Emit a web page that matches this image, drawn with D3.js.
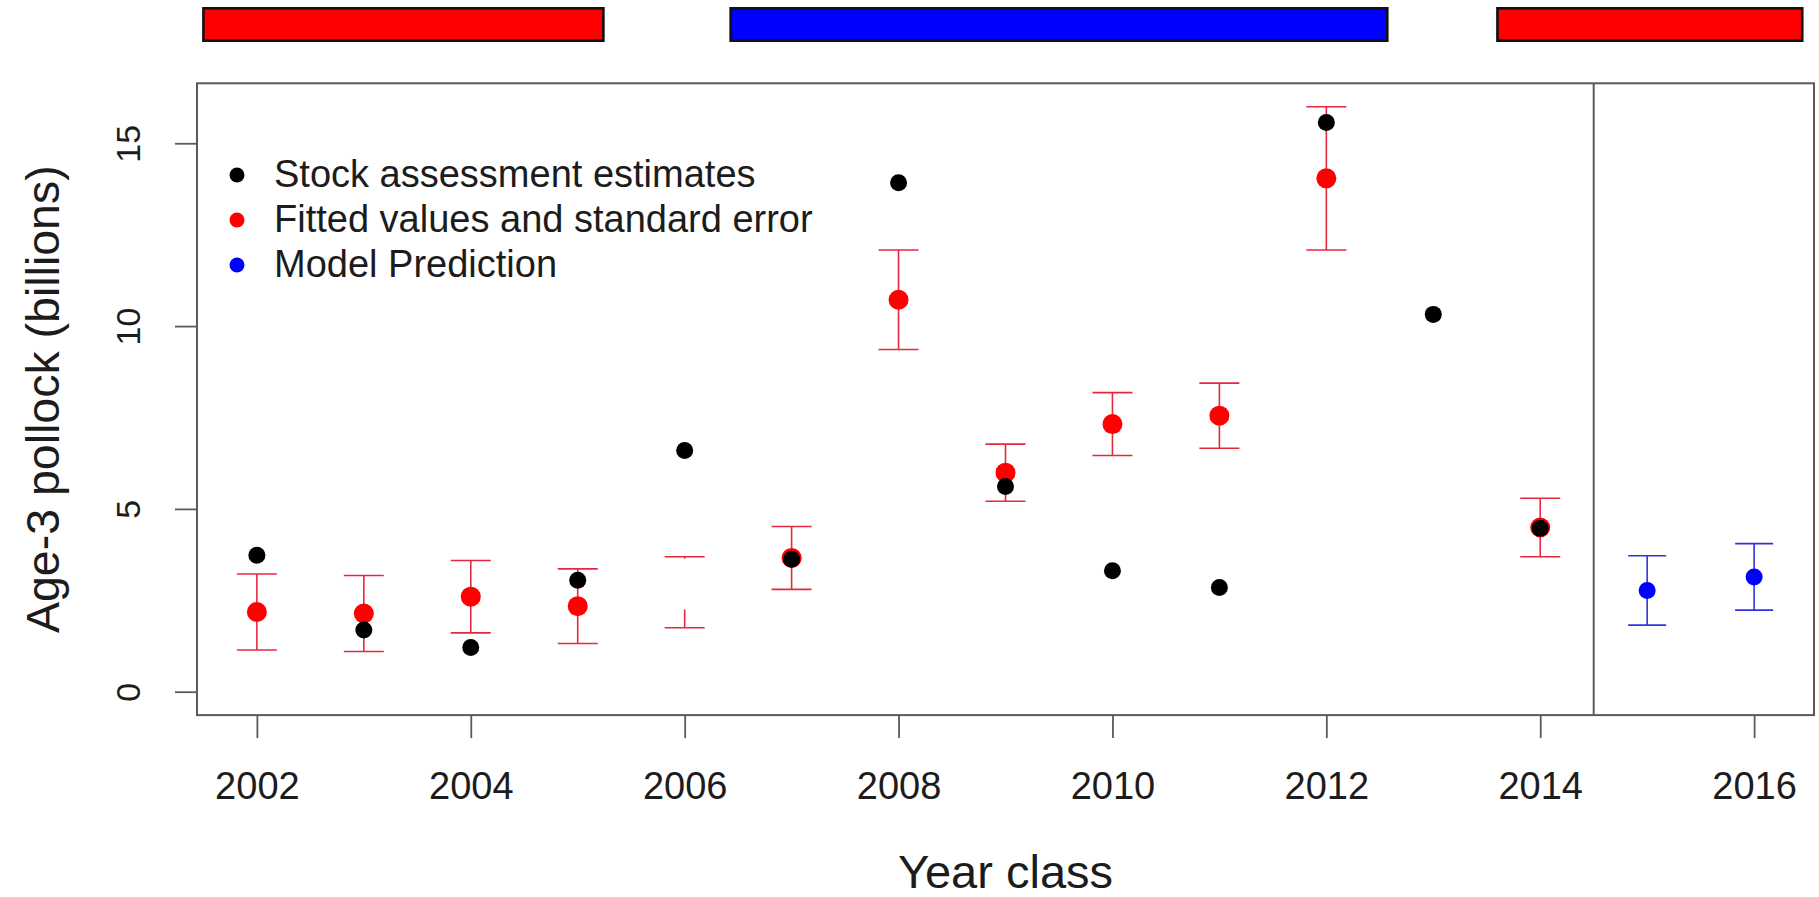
<!DOCTYPE html>
<html>
<head>
<meta charset="utf-8">
<script src="https://cdn.jsdelivr.net/npm/d3@7"></script>
<style>
  html, body { margin: 0; padding: 0; background: #ffffff; }
  svg { display: block; font-family: "Liberation Sans", Arial, Helvetica, sans-serif; }
</style>
</head>
<body>
<script>
// Year classes with stock assessment estimates (billions of age-3 pollock)
const assessmentYears = [2002, 2003, 2004, 2005, 2006, 2007, 2008, 2009, 2010, 2011, 2012, 2013, 2014];
const assessmentValues = [3.73, 1.69, 1.21, 3.05, 6.60, 3.62, 13.92, 5.61, 3.31, 2.85, 15.57, 10.32, 4.47];

// Fitted values with their standard errors
const fittedYears = [2002, 2003, 2004, 2005, 2006, 2007, 2008, 2009, 2010, 2011, 2012, 2014];
const fittedValues = [2.18, 2.14, 2.60, 2.34, 2.72, 3.66, 10.72, 5.99, 7.32, 7.55, 14.04, 4.49];
const fittedSE = [1.04, 1.04, 0.99, 1.02, 0.97, 0.86, 1.36, 0.78, 0.86, 0.89, 1.96, 0.80];

// Model predictions for the most recent year classes
const predictionYears = [2015, 2016];
const predictionValues = [2.77, 3.14];
const predictionSE = [0.95, 0.91];

// Blank patch drawn over part of the 2006 fitted bar (value range)
const blankPatch = { year: 2006, from: 2.25, to: 3.64 };

// Warm / cold period bars along the top (year ranges)
const periodStarts = [2001.5, 2006.43, 2013.6];
const periodEnds = [2005.24, 2012.57, 2016.45];
const periodColors = ["#ff0000", "#0000ff", "#ff0000"];

// Axis ticks
const xTickValues = [2002, 2004, 2006, 2008, 2010, 2012, 2014, 2016];
const yTickValues = [0, 5, 10, 15];

// Hindcast / forecast boundary
const splitYear = 2014.5;

// Legend entries
const legendLabels = ["Stock assessment estimates", "Fitted values and standard error", "Model Prediction"];
const legendColors = ["#000000", "#ff0000", "#0000ff"];

const W = 1819, H = 897;
const plot = { left: 197, right: 1814, top: 83.3, bottom: 715.1 };

const svg = d3.select("body").append("svg")
  .attr("width", W).attr("height", H);

svg.append("rect").attr("width", W).attr("height", H).attr("fill", "#ffffff");

// R-style 4% padding around xlim = c(2002, 2016), ylim = c(0, 16)
const x = d3.scaleLinear().domain([2002 - 0.56, 2016 + 0.56]).range([plot.left, plot.right]);
const y = d3.scaleLinear().domain([0 - 0.64, 16 + 0.64]).range([plot.bottom, plot.top]);

const axisColor = "#5a5a5a";
const textColor = "#1c1c1c";

// Period bars
const periods = periodStarts.map((s, i) => ({ start: s, end: periodEnds[i], color: periodColors[i] }));
svg.append("g").selectAll("rect").data(periods).join("rect")
  .attr("x", d => x(d.start))
  .attr("y", 8.3)
  .attr("width", d => x(d.end) - x(d.start))
  .attr("height", 32.4)
  .attr("fill", d => d.color)
  .attr("stroke", "#111111")
  .attr("stroke-width", 2.6);

// X axis
const xAxis = svg.append("g")
  .attr("transform", `translate(0,${plot.bottom})`)
  .call(d3.axisBottom(x).tickValues(xTickValues).tickFormat(d3.format("d")).tickSize(23).tickPadding(34));
xAxis.select(".domain").remove();
xAxis.selectAll(".tick line").attr("stroke", axisColor).attr("stroke-width", 1.8);
xAxis.selectAll(".tick text")
  .attr("fill", textColor)
  .style("font-size", "38px")
  .style("font-family", "\"Liberation Sans\", Arial, sans-serif");

// Y axis with labels parallel to the axis
const yAxis = svg.append("g")
  .attr("transform", `translate(${plot.left},0)`)
  .call(d3.axisLeft(y).tickValues(yTickValues).tickFormat(d3.format("d")).tickSize(22));
yAxis.select(".domain").remove();
yAxis.selectAll(".tick line").attr("stroke", axisColor).attr("stroke-width", 1.8);
yAxis.selectAll(".tick text")
  .attr("x", null)
  .attr("dy", null)
  .attr("text-anchor", "middle")
  .attr("transform", `translate(${140 - plot.left},0) rotate(-90)`)
  .attr("fill", textColor)
  .style("font-size", "34px")
  .style("font-family", "\"Liberation Sans\", Arial, sans-serif");

// Axis titles
svg.append("text")
  .attr("transform", `translate(59,${(plot.top + plot.bottom) / 2}) rotate(-90)`)
  .attr("text-anchor", "middle")
  .attr("fill", textColor)
  .style("font-size", "46.5px")
  .text("Age-3 pollock (billions)");

svg.append("text")
  .attr("x", (plot.left + plot.right) / 2)
  .attr("y", 888)
  .attr("text-anchor", "middle")
  .attr("fill", textColor)
  .style("font-size", "47px")
  .text("Year class");

// Error bars helper
function errorBars(g, years, values, se, color, capHalf, width) {
  const rows = years.map((yr, i) => ({ yr, lo: values[i] - se[i], hi: values[i] + se[i] }));
  const gg = g.append("g").attr("stroke", color).attr("stroke-width", width).attr("fill", "none");
  gg.selectAll("line.whisker").data(rows).join("line").attr("class", "whisker")
    .attr("x1", d => x(d.yr)).attr("x2", d => x(d.yr))
    .attr("y1", d => y(d.hi)).attr("y2", d => y(d.lo));
  gg.selectAll("line.capHi").data(rows).join("line").attr("class", "capHi")
    .attr("x1", d => x(d.yr) - capHalf).attr("x2", d => x(d.yr) + capHalf)
    .attr("y1", d => y(d.hi)).attr("y2", d => y(d.hi));
  gg.selectAll("line.capLo").data(rows).join("line").attr("class", "capLo")
    .attr("x1", d => x(d.yr) - capHalf).attr("x2", d => x(d.yr) + capHalf)
    .attr("y1", d => y(d.lo)).attr("y2", d => y(d.lo));
}

const marks = svg.append("g");

errorBars(marks, fittedYears, fittedValues, fittedSE, "#e6283f", 20, 1.6);
errorBars(marks, predictionYears, predictionValues, predictionSE, "#3232dc", 19, 1.6);

// Fitted points
marks.append("g").selectAll("circle").data(fittedYears.map((yr, i) => [yr, fittedValues[i]])).join("circle")
  .attr("cx", d => x(d[0])).attr("cy", d => y(d[1])).attr("r", 10)
  .attr("fill", "#ff0000");

// Blank patch over the 2006 fitted point
marks.append("rect")
  .attr("x", x(blankPatch.year) - 25)
  .attr("width", 50)
  .attr("y", y(blankPatch.to))
  .attr("height", y(blankPatch.from) - y(blankPatch.to))
  .attr("fill", "#ffffff");

// Prediction points
marks.append("g").selectAll("circle").data(predictionYears.map((yr, i) => [yr, predictionValues[i]])).join("circle")
  .attr("cx", d => x(d[0])).attr("cy", d => y(d[1])).attr("r", 8.5)
  .attr("fill", "#0000ff");

// Stock assessment points
marks.append("g").selectAll("circle").data(assessmentYears.map((yr, i) => [yr, assessmentValues[i]])).join("circle")
  .attr("cx", d => x(d[0])).attr("cy", d => y(d[1])).attr("r", 8.5)
  .attr("fill", "#000000");

// Plot box and forecast divider
svg.append("rect")
  .attr("x", plot.left).attr("y", plot.top)
  .attr("width", plot.right - plot.left).attr("height", plot.bottom - plot.top)
  .attr("fill", "none").attr("stroke", axisColor).attr("stroke-width", 2);
svg.append("line")
  .attr("x1", x(splitYear)).attr("x2", x(splitYear))
  .attr("y1", plot.top).attr("y2", plot.bottom)
  .attr("stroke", axisColor).attr("stroke-width", 2);

// Legend
const legend = svg.append("g");
const legendRows = legend.selectAll("g").data(legendLabels).join("g")
  .attr("transform", (d, i) => `translate(237,${175 + i * 45})`);
legendRows.append("circle").attr("r", 7.5).attr("fill", (d, i) => legendColors[i]);
legendRows.append("text")
  .attr("x", 37).attr("y", 12)
  .attr("fill", textColor)
  .style("font-size", "38px")
  .text(d => d);
</script>
</body>
</html>
